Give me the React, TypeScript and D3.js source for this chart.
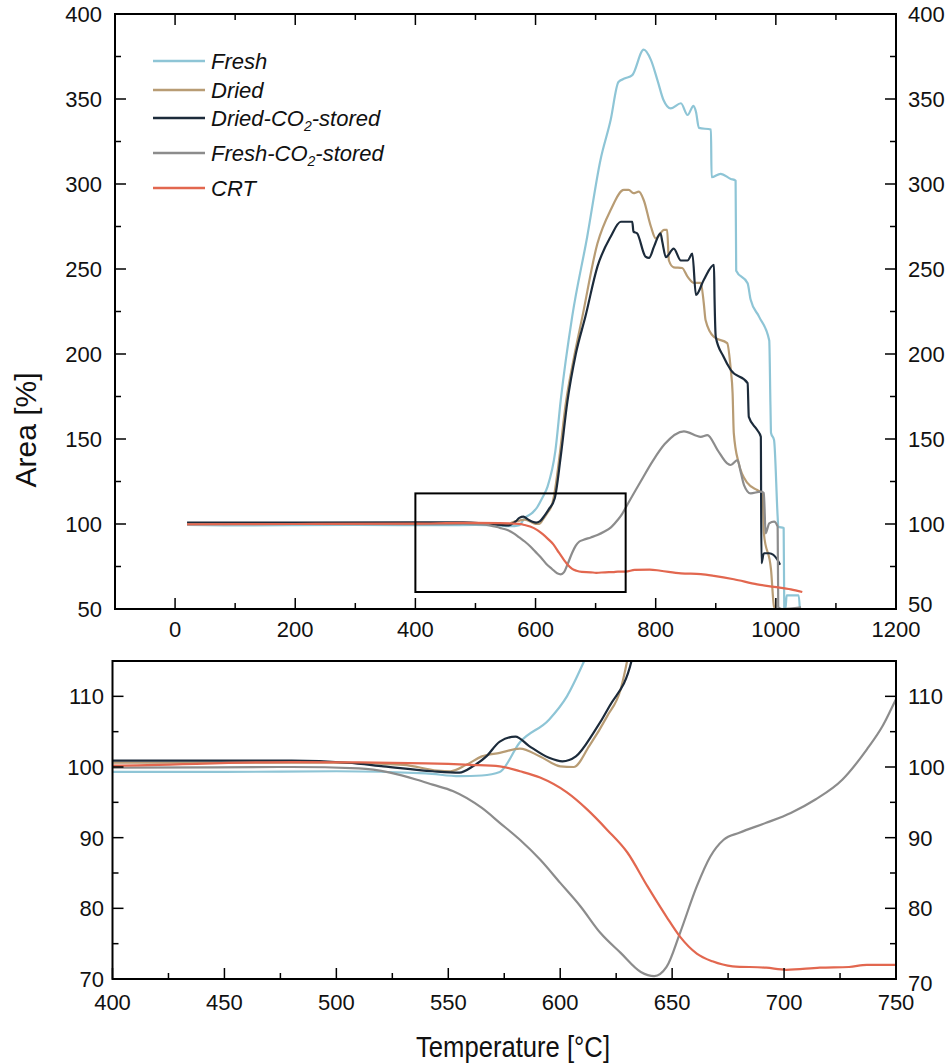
import React from "react";
import * as d3 from "d3";

type P = [number, number];

const seriesNames = ["Fresh", "Dried", "Dried-CO2-stored", "Fresh-CO2-stored", "CRT"];
const seriesColors = ["#8ec5d6", "#b89c74", "#1c2b3b", "#8c8c8c", "#e2674f"];

const fresh: P[] = [
  [20, 99.4], [100, 99.2], [200, 99.3], [300, 99.4], [400, 99.3], [450, 99.3], [500, 99.4], [540, 99.1],
  [555, 98.7], [565, 98.8], [573, 99.3], [582, 103.5], [595, 106.7], [603, 110], [611, 115.2], [620, 122],
  [633, 143], [642, 173], [661, 222], [686, 269], [708, 314], [725, 337.6], [738, 360], [748, 362],
  [761, 364], [780, 379], [792, 373], [803, 361], [813, 349.4], [825, 344.5], [842, 347.5], [853, 340.6],
  [863, 346], [867, 342.5], [872, 333], [892, 332], [893, 304], [908, 306], [925, 303], [933, 302],
  [934, 249], [953, 241.6], [958, 232], [972, 222], [989, 208], [991, 170], [992, 153.5], [997, 149.4],
  [1003, 104.3], [1004, 98.4], [1013, 97.6], [1014, 51], [1016, 50], [1018, 58], [1038, 58], [1040, 50],
];

const dried: P[] = [
  [20, 100.5], [200, 100.6], [400, 100.6], [500, 100.6], [530, 100.3], [545, 99.5], [551, 99.4],
  [558, 100.3], [565, 101.5], [573, 102], [582, 102.6], [591, 101.5], [600, 100.1], [606, 100],
  [613, 103], [621, 107.2], [627, 111], [630, 115.2], [640, 140], [650, 170], [664, 198], [678, 222],
  [703, 265], [725, 284.7], [747, 296.5], [755, 296.5], [763, 294.6], [772, 295.5], [780, 290.6],
  [792, 275], [800, 268], [814, 273], [819, 273], [822, 255], [830, 251], [844, 250.6], [853, 245.5],
  [864, 241.8], [875, 241.8], [880, 230], [883, 220], [897, 210], [919, 206.4], [925, 190.6],
  [928, 177], [930, 153.5], [938, 136], [953, 124], [969, 120], [978, 118], [980, 94.7], [992, 73],
  [997, 51.4], [1000, 50], [1010, 50],
];

const driedCO2: P[] = [
  [20, 100.8], [200, 100.8], [400, 100.9], [480, 100.9], [505, 100.6], [521, 100.1], [543, 99.4],
  [555, 99.2], [561, 100.1], [567, 101.5], [573, 103.6], [580, 104.3], [586, 103], [595, 101.3],
  [601, 100.8], [607, 101.5], [615, 104.9], [622, 108.6], [632, 115.2], [642, 140], [653, 172],
  [667, 200], [683, 222], [703, 251.4], [725, 269], [742, 277.8], [761, 277.8], [763, 272], [769, 271],
  [783, 257.3], [789, 256.5], [797, 263], [808, 271], [811, 266], [817, 257], [830, 262], [842, 255],
  [853, 255], [861, 259], [867, 234.7], [880, 243.5], [897, 252.4], [898, 232], [900, 210], [913, 198.4],
  [925, 190.6], [953, 182.9], [955, 163], [969, 155.3], [975, 151.3], [976, 76.9], [980, 82.8],
  [989, 82.8], [1003, 78.8], [1007, 76],
];

const freshCO2: P[] = [
  [20, 100], [200, 100], [400, 99.9], [480, 100], [510, 99.8], [524, 99.2], [536, 98.2], [543, 97.5],
  [552, 96.6], [565, 94.2], [573, 92.1], [582, 89.7], [591, 86.9], [600, 83.6], [609, 80.3], [618, 76.5],
  [627, 73.7], [636, 71], [642, 70.4], [647.5, 71.7], [653.5, 76.5], [661, 83.1], [667, 87.3], [673, 89.7],
  [680, 90.7], [692, 92.1], [703, 93.5], [714, 95.4], [726, 98.2], [737, 102.5], [744, 105.8], [750, 109.6],
  [775, 125], [795, 137], [815, 147], [847, 154.5], [875, 151.3], [886, 152.3], [903, 143.5], [919, 135.7],
  [925, 134.7], [936, 137.6], [942, 129.8], [947, 122.9], [958, 118], [975, 119], [980, 118.2],
  [983, 94.5], [989, 100.4], [997, 101.4], [1003, 98.4], [1004, 51], [1010, 50], [1042, 51],
];

const crt: P[] = [
  [20, 99.8], [200, 100], [400, 100.2], [480, 100.7], [540, 100.5], [560, 100.3], [573, 100.1],
  [582, 99.4], [591, 98.5], [603, 96.4], [612, 94], [621, 91.1], [630, 87.9], [639, 83.1], [647.5, 78.8],
  [653.5, 76], [661, 73.6], [668, 72.5], [677, 71.8], [692, 71.6], [701, 71.3], [716, 71.6], [729, 71.7],
  [737, 72], [750, 72], [765, 73], [790, 73.2], [808, 72.5], [842, 71], [875, 70.5], [897, 69.5],
  [930, 67.5], [969, 64.5], [997, 63], [1025, 61.5], [1044, 60],
];

const allSeries = [fresh, dried, driedCO2, freshCO2, crt];

const topXTicks = [0, 200, 400, 600, 800, 1000, 1200];
const topXMinor = [-100, 100, 300, 500, 700, 900, 1100];
const topYTicks = [50, 100, 150, 200, 250, 300, 350, 400];
const topYMinor = [75, 125, 175, 225, 275, 325, 375];
const botXTicks = [400, 450, 500, 550, 600, 650, 700, 750];
const botXMinor = [425, 475, 525, 575, 625, 675, 725];
const botYTicks = [70, 80, 90, 100, 110];
const botYMinor = [75, 85, 95, 105, 115];
const zoomBox = { x0: 400, x1: 750, y0: 60, y1: 118 };

const FONT = "'Liberation Sans', Arial, sans-serif";

function Panel(props: {
  id: string;
  x: d3.ScaleLinear<number, number>;
  y: d3.ScaleLinear<number, number>;
  xTicks: number[];
  xMinor: number[];
  yTicks: number[];
  yMinor: number[];
  xLabelY: number;
  yLabelLeftX: number;
  rightLabelShift: (v: number) => number;
  topTicks: boolean;
}) {
  const { id, x, y } = props;
  const [x0, x1] = x.range();
  const [y0, y1] = y.range(); // y0 bottom, y1 top
  const line = d3
    .line<P>()
    .x((d) => x(d[0]))
    .y((d) => y(d[1]))
    .curve(d3.curveMonotoneX);
  const maj = 11;
  const min = 6;
  return (
    <g>
      <defs>
        <clipPath id={id}>
          <rect x={x0} y={y1} width={x1 - x0} height={y0 - y1} />
        </clipPath>
      </defs>
      <g clipPath={`url(#${id})`}>
        {allSeries.map((s, i) => (
          <path key={i} d={line(s) || ""} fill="none" stroke={seriesColors[i]} strokeWidth={2.2} strokeLinejoin="round" />
        ))}
      </g>
      {props.xTicks.map((t) => (
        <g key={"xt" + t}>
          <line x1={x(t)} x2={x(t)} y1={y0} y2={y0 - maj} stroke="#000" strokeWidth={1.5} />
          {props.topTicks && <line x1={x(t)} x2={x(t)} y1={y1} y2={y1 + maj} stroke="#000" strokeWidth={1.5} />}
          <text x={x(t)} y={props.xLabelY} textAnchor="middle" fontSize={22} fontFamily={FONT} fill="#111">
            {t}
          </text>
        </g>
      ))}
      {props.xMinor.map((t) => (
        <g key={"xm" + t}>
          <line x1={x(t)} x2={x(t)} y1={y0} y2={y0 - min} stroke="#000" strokeWidth={1.5} />
          {props.topTicks && <line x1={x(t)} x2={x(t)} y1={y1} y2={y1 + min} stroke="#000" strokeWidth={1.5} />}
        </g>
      ))}
      {props.yTicks.map((t) => (
        <g key={"yt" + t}>
          <line x1={x0} x2={x0 + maj} y1={y(t)} y2={y(t)} stroke="#000" strokeWidth={1.5} />
          <line x1={x1} x2={x1 - maj} y1={y(t)} y2={y(t)} stroke="#000" strokeWidth={1.5} />
          <text x={props.yLabelLeftX} y={y(t) + 8} textAnchor="end" fontSize={22} fontFamily={FONT} fill="#111">
            {t}
          </text>
          <text x={x1 + 12} y={y(t) + 8 + props.rightLabelShift(t)} textAnchor="start" fontSize={22} fontFamily={FONT} fill="#111">
            {t}
          </text>
        </g>
      ))}
      {props.yMinor.map((t) => (
        <g key={"ym" + t}>
          <line x1={x0} x2={x0 + min} y1={y(t)} y2={y(t)} stroke="#000" strokeWidth={1.5} />
          <line x1={x1} x2={x1 - min} y1={y(t)} y2={y(t)} stroke="#000" strokeWidth={1.5} />
        </g>
      ))}
      <rect x={x0} y={y1} width={x1 - x0} height={y0 - y1} fill="none" stroke="#000" strokeWidth={2} />
    </g>
  );
}

export default function App() {
  const xTop = d3.scaleLinear().domain([-100, 1200]).range([115, 896]);
  const yTop = d3.scaleLinear().domain([50, 400]).range([609, 14]);
  const xBot = d3.scaleLinear().domain([400, 750]).range([112.5, 896]);
  const yBot = d3.scaleLinear().domain([70, 115]).range([979, 661]);

  const legendY = [61, 90, 118, 153, 188];

  return (
    <svg width={950} height={1063} style={{ position: "absolute", left: 0, top: 0, background: "#fff" }}>
      <rect x={0} y={0} width={950} height={1063} fill="#fff" />
      <Panel
        id="clipTop"
        x={xTop}
        y={yTop}
        xTicks={topXTicks}
        xMinor={topXMinor}
        yTicks={topYTicks}
        yMinor={topYMinor}
        xLabelY={637}
        yLabelLeftX={102}
        rightLabelShift={(v) => (v === 50 ? -5 : 0)}
        topTicks={true}
      />
      <rect
        x={xTop(zoomBox.x0)}
        y={yTop(zoomBox.y1)}
        width={xTop(zoomBox.x1) - xTop(zoomBox.x0)}
        height={yTop(zoomBox.y0) - yTop(zoomBox.y1)}
        fill="none"
        stroke="#000"
        strokeWidth={2}
      />
      <Panel
        id="clipBot"
        x={xBot}
        y={yBot}
        xTicks={botXTicks}
        xMinor={botXMinor}
        yTicks={botYTicks}
        yMinor={botYMinor}
        xLabelY={1010}
        yLabelLeftX={104}
        rightLabelShift={(v) => (v === 70 ? 4 : 0)}
        topTicks={false}
      />
      {seriesNames.map((n, i) => (
        <g key={n}>
          <line x1={153} x2={205} y1={legendY[i]} y2={legendY[i]} stroke={seriesColors[i]} strokeWidth={2.5} />
          <text x={211} y={legendY[i] + 8} fontSize={22} fontStyle="italic" fontFamily={FONT} fill="#111">
            {n.includes("CO2") ? (
              <>
                <tspan>{n.split("CO2")[0] + "CO"}</tspan>
                <tspan dy={5} fontSize={14}>2</tspan>
                <tspan dy={-5}>{n.split("CO2")[1]}</tspan>
              </>
            ) : (
              n
            )}
          </text>
        </g>
      ))}
      <text
        transform="translate(36,430) rotate(-90)"
        textAnchor="middle"
        fontSize={30}
        fontFamily={FONT}
        fill="#111"
      >
        Area [%]
      </text>
      <text
        x={513}
        y={1057}
        textAnchor="middle"
        fontSize={29}
        fontFamily={FONT}
        fill="#111"
        textLength={194}
        lengthAdjust="spacingAndGlyphs"
      >
        Temperature [°C]
      </text>
    </svg>
  );
}
